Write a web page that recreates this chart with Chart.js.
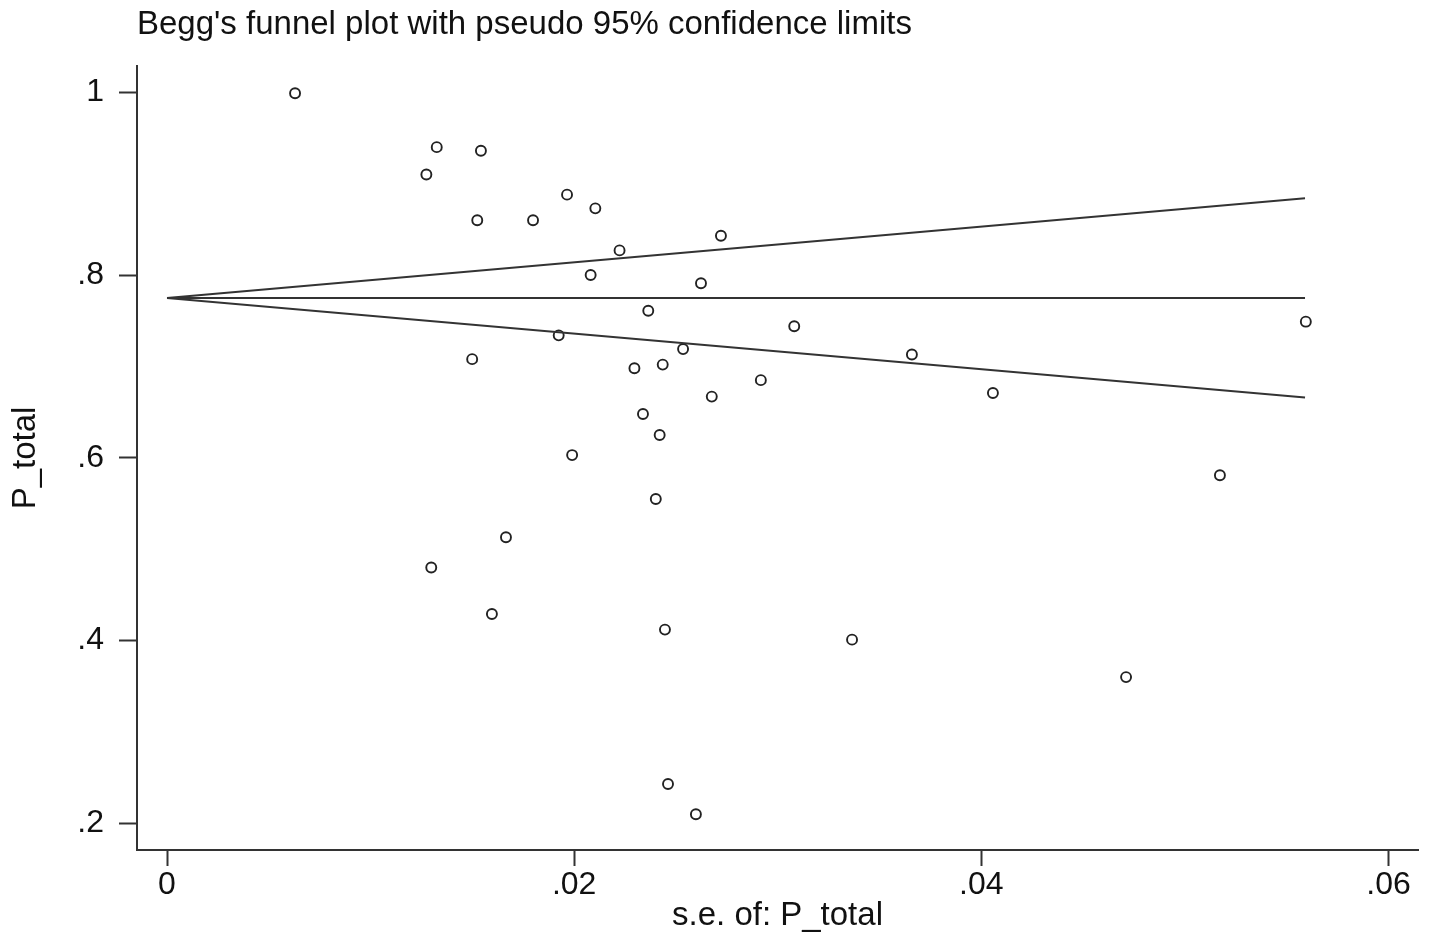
<!DOCTYPE html>
<html>
<head>
<meta charset="utf-8">
<script src="https://cdn.jsdelivr.net/npm/chart.js@4.4.1/dist/chart.umd.min.js"></script>
<style>
  html, body { margin: 0; padding: 0; background: #fff; }
  canvas { display: block; }
</style>
</head>
<body>
<canvas id="funnel" width="1429" height="945"></canvas>
<script>
// studies: standard error and P_total
const seValues = [
  0.00629, 0.01325, 0.01542, 0.01274, 0.01965, 0.02104, 0.01524, 0.01798,
  0.02721, 0.02223, 0.02081, 0.02623, 0.02364, 0.03081, 0.05594, 0.01924,
  0.01499, 0.02535, 0.02296, 0.02435, 0.03659, 0.02917, 0.02676, 0.04057,
  0.02338, 0.02420, 0.01990, 0.02401, 0.05172, 0.01665, 0.01298, 0.01596,
  0.02446, 0.03365, 0.04711, 0.02461, 0.02598
];
const pValues = [
  0.999, 0.940, 0.936, 0.910, 0.888, 0.873, 0.860, 0.860,
  0.843, 0.827, 0.800, 0.791, 0.761, 0.744, 0.749, 0.734,
  0.708, 0.719, 0.698, 0.702, 0.713, 0.685, 0.667, 0.671,
  0.648, 0.625, 0.603, 0.555, 0.581, 0.513, 0.480, 0.429,
  0.412, 0.401, 0.360, 0.243, 0.210
];

// pooled estimate and pseudo 95% limits
const lineSe = [0, 0.0559];
const pooledLine = [0.775, 0.775];
const upperLine = [0.775, 0.884];
const lowerLine = [0.775, 0.666];

const xTicks = [0, 0.02, 0.04, 0.06];
const yTicks = [0.2, 0.4, 0.6, 0.8, 1];

const font = "'Liberation Sans', Arial, sans-serif";
const ink = "#111";
const lineInk = "#333";

function pairUp(xs, ys) {
  return xs.map((x, i) => ({ x: x, y: ys[i] }));
}

function stataLabel(v) {
  return v === 0 ? "0" : String(v).replace(/^0\./, ".");
}

const lineStyle = {
  showLine: true,
  borderColor: lineInk,
  borderWidth: 2,
  pointRadius: 0,
  fill: false,
};

new Chart(document.getElementById("funnel"), {
  type: "scatter",
  data: {
    datasets: [
      Object.assign({ data: pairUp(lineSe, upperLine) }, lineStyle),
      Object.assign({ data: pairUp(lineSe, pooledLine) }, lineStyle),
      Object.assign({ data: pairUp(lineSe, lowerLine) }, lineStyle),
      {
        data: pairUp(seValues, pValues),
        pointStyle: "circle",
        pointRadius: 5,
        pointBorderWidth: 1.9,
        pointBorderColor: "#222",
        pointBackgroundColor: "#fff",
      },
    ],
  },
  options: {
    responsive: false,
    animation: false,
    layout: { padding: { left: 0, right: 11, top: 0, bottom: 0 } },
    plugins: {
      legend: { display: false },
      tooltip: { enabled: false },
      title: {
        display: true,
        text: "Begg's funnel plot with pseudo 95% confidence limits",
        align: "start",
        fullSize: false,
        color: ink,
        font: { family: font, size: 33, weight: "normal", lineHeight: 1.2 },
        padding: { top: 5, bottom: 21.4 },
      },
    },
    scales: {
      x: {
        type: "linear",
        min: -0.001474,
        max: 0.06145,
        afterBuildTicks: (axis) => { axis.ticks = xTicks.map((v) => ({ value: v })); },
        afterFit: (scale) => { scale.height = 95; },
        ticks: {
          color: ink,
          padding: 0,
          font: { family: font, size: 32 },
          callback: (v) => stataLabel(v),
        },
        grid: { drawOnChartArea: false, drawTicks: true, tickLength: 16, tickWidth: 2, color: lineInk },
        border: { display: true, color: lineInk, width: 2 },
        title: {
          display: true,
          text: "s.e. of: P_total",
          color: ink,
          font: { family: font, size: 33, lineHeight: 1.2 },
          padding: { top: 0, bottom: 9 },
        },
      },
      y: {
        type: "linear",
        min: 0.1708,
        max: 1.0288,
        afterBuildTicks: (axis) => { axis.ticks = yTicks.map((v) => ({ value: v })); },
        afterFit: (scale) => { scale.width = 137; },
        ticks: {
          color: ink,
          padding: 15,
          font: { family: font, size: 32 },
          callback: (v) => stataLabel(v),
        },
        grid: { drawOnChartArea: false, drawTicks: true, tickLength: 18, tickWidth: 2, color: lineInk },
        border: { display: true, color: lineInk, width: 2 },
        title: {
          display: true,
          text: "P_total",
          color: ink,
          font: { family: font, size: 33, lineHeight: 1.2 },
          padding: { top: 6, bottom: 0 },
        },
      },
    },
  },
});
</script>
</body>
</html>
